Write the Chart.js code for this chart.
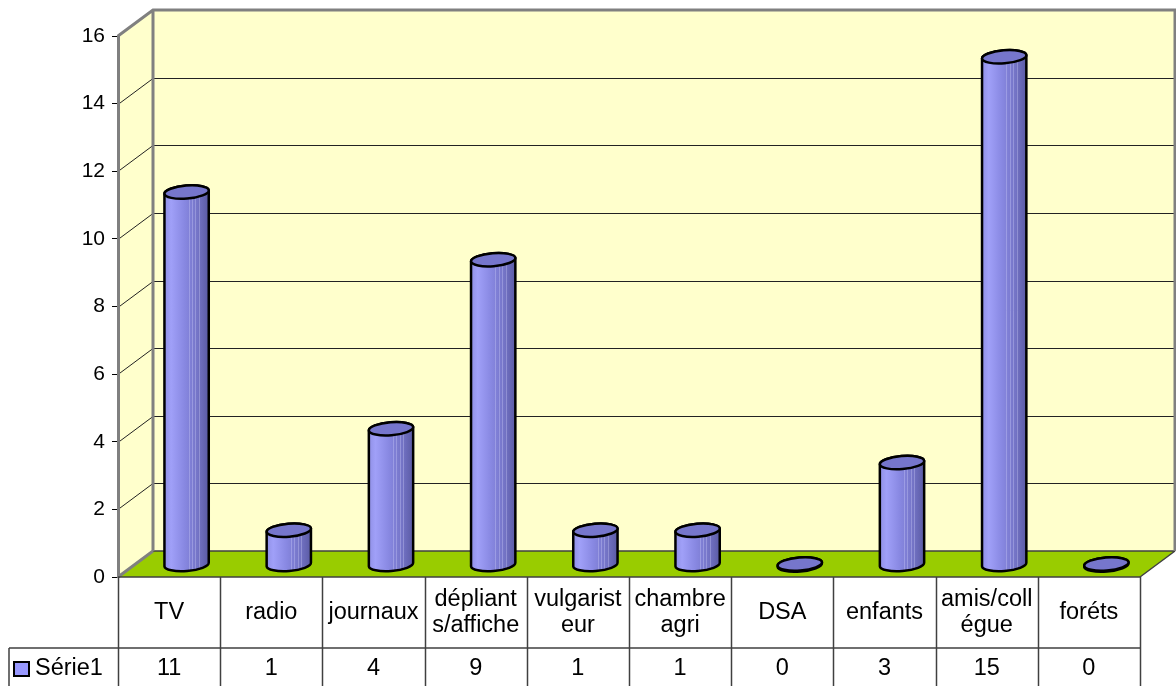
<!DOCTYPE html>
<html>
<head>
<meta charset="utf-8">
<script src="https://cdn.jsdelivr.net/npm/chart.js@4/dist/chart.umd.min.js"></script>
<style>
  html, body { margin: 0; padding: 0; background: #ffffff; }
  #wrap { position: relative; width: 1176px; height: 686px; }
</style>
</head>
<body>
<div id="wrap"><canvas id="c"></canvas></div>
<script>
// Sources d'information — effectifs par canal
const categories = [
  ['TV'], ['radio'], ['journaux'], ['dépliant', 's/affiche'], ['vulgarist', 'eur'],
  ['chambre', 'agri'], ['DSA'], ['enfants'], ['amis/coll', 'égue'], ['foréts']
];
const values = [11, 1, 4, 9, 1, 1, 0, 3, 15, 0];
const seriesName = 'Série1';

const FONT = '"Liberation Sans", Arial, sans-serif';
const DX = 35, DY = 26;               // 3D depth offset of the back wall
const WALL = '#ffffcc', FLOOR = '#99cc00', EDGE = '#808080';

const scene3d = {
  id: 'scene3d',
  beforeDraw(chart) {
    const { ctx, chartArea: a, scales: { y } } = chart;
    const L = a.left, R = a.right, T = a.top, B = a.bottom;
    ctx.save();
    // side wall
    ctx.fillStyle = WALL;
    ctx.beginPath();
    ctx.moveTo(L, B); ctx.lineTo(L, T); ctx.lineTo(L + DX, T - DY); ctx.lineTo(L + DX, B - DY);
    ctx.closePath(); ctx.fill();
    // back wall
    ctx.fillRect(L + DX, T - DY, R - L, B - T);
    // grid lines
    ctx.strokeStyle = '#222'; ctx.lineWidth = 1;
    y.ticks.forEach(t => {
      if (t.value <= 0 || t.value >= y.max) return;
      const py = Math.round(y.getPixelForValue(t.value)) + 0.5;
      ctx.beginPath();
      ctx.moveTo(L, py); ctx.lineTo(L + DX, py - DY); ctx.lineTo(R + DX, py - DY);
      ctx.stroke();
    });
    // floor
    ctx.fillStyle = FLOOR;
    ctx.beginPath();
    ctx.moveTo(L, B); ctx.lineTo(R, B); ctx.lineTo(R + DX, B - DY); ctx.lineTo(L + DX, B - DY);
    ctx.closePath(); ctx.fill();
    ctx.strokeStyle = '#404040'; ctx.lineWidth = 1.5;
    ctx.beginPath();
    ctx.moveTo(L + DX, B - DY); ctx.lineTo(R + DX, B - DY);
    ctx.moveTo(R, B); ctx.lineTo(R + DX, B - DY);
    ctx.stroke();
    // wall edges
    ctx.strokeStyle = EDGE; ctx.lineWidth = 3;
    ctx.beginPath();
    ctx.moveTo(L, T); ctx.lineTo(L + DX, T - DY); ctx.lineTo(R + DX, T - DY); ctx.lineTo(R + DX, B - DY);
    ctx.moveTo(L + DX, T - DY); ctx.lineTo(L + DX, B - DY);
    ctx.moveTo(L, B); ctx.lineTo(L + DX, B - DY);
    ctx.stroke();
    ctx.restore();
  },
  afterDatasetsDraw(chart) {
    const { ctx } = chart;
    const meta = chart.getDatasetMeta(0);
    const rot = -0.08;
    ctx.save();
    meta.data.forEach(bar => {
      const cx = bar.x + DX / 2;
      const rx = bar.width / 2, ry = 6.5;
      const top = bar.y - DY / 2, bot = bar.base - DY / 2 + 1;
      // body
      const g = ctx.createLinearGradient(cx - rx, 0, cx + rx, 0);
      g.addColorStop(0, '#9090e6');
      g.addColorStop(0.15, '#a0a0f8');
      g.addColorStop(0.45, '#8888e2');
      g.addColorStop(0.75, '#7474c6');
      g.addColorStop(1, '#5a5aa4');
      ctx.beginPath();
      ctx.ellipse(cx, bot, rx, ry, rot, 0, Math.PI);
      ctx.ellipse(cx, top, rx, ry, rot, Math.PI, 2 * Math.PI);
      ctx.closePath();
      ctx.fillStyle = g; ctx.fill();
      // faint vertical stripes
      ctx.save();
      ctx.clip();
      ctx.strokeStyle = 'rgba(220,220,255,0.3)'; ctx.lineWidth = 1;
      [0.55, 0.62, 0.7, 0.78].forEach(f => {
        const sx = Math.round(cx - rx + 2 * rx * f) + 0.5;
        ctx.beginPath(); ctx.moveTo(sx, top - ry); ctx.lineTo(sx, bot + ry); ctx.stroke();
      });
      ctx.restore();
      ctx.strokeStyle = '#000'; ctx.lineWidth = 2.5;
      ctx.beginPath();
      ctx.ellipse(cx, bot, rx, ry, rot, 0, Math.PI);
      ctx.ellipse(cx, top, rx, ry, rot, Math.PI, 2 * Math.PI);
      ctx.closePath();
      ctx.stroke();
      // top cap
      ctx.beginPath();
      ctx.ellipse(cx, top, rx, ry, rot, 0, 2 * Math.PI);
      ctx.fillStyle = '#7676cc'; ctx.fill();
      ctx.stroke();
    });
    ctx.restore();
  },
  afterDraw(chart) {
    const { ctx, chartArea: a, scales: { x } } = chart;
    const n = categories.length;
    const colW = (a.right - a.left) / n;
    const rowTop = a.bottom, rowMid = 648, rowBot = 700, legL = 9;
    ctx.save();
    ctx.strokeStyle = '#404040'; ctx.lineWidth = 1.5;
    ctx.beginPath();
    ctx.moveTo(a.left, rowTop); ctx.lineTo(a.right, rowTop);
    ctx.moveTo(legL, rowMid); ctx.lineTo(a.right, rowMid);
    ctx.moveTo(legL, rowMid); ctx.lineTo(legL, rowBot);
    for (let i = 0; i <= n; i++) {
      const px = Math.round(a.left + i * colW) + 0.5;
      ctx.moveTo(px, rowTop); ctx.lineTo(px, rowBot);
    }
    ctx.stroke();
    ctx.fillStyle = '#000';
    ctx.font = '23.5px ' + FONT;
    ctx.textAlign = 'center'; ctx.textBaseline = 'middle';
    categories.forEach((lines, i) => {
      const cx = x.getPixelForValue(i);
      const mid = (rowTop + rowMid) / 2;
      const lh = 26.5;
      lines.forEach((s, k) => {
        ctx.fillText(s, cx, mid + (k - (lines.length - 1) / 2) * lh);
      });
      ctx.fillText(String(values[i]), cx, 669);
    });
    // legend key
    ctx.fillStyle = '#9999ff';
    ctx.fillRect(14, 662, 15, 14);
    ctx.strokeStyle = '#000'; ctx.lineWidth = 2;
    ctx.strokeRect(14, 662, 15, 14);
    ctx.fillStyle = '#000'; ctx.textAlign = 'left';
    ctx.fillText(seriesName, 35, 669);
    ctx.restore();
  }
};

new Chart(document.getElementById('c'), {
  type: 'bar',
  data: {
    labels: categories.map(l => l.join(' ')),
    datasets: [{
      label: seriesName,
      data: values,
      backgroundColor: 'rgba(0,0,0,0)',
      borderWidth: 0,
      categoryPercentage: 1,
      barPercentage: 0.435
    }]
  },
  options: {
    responsive: true,
    maintainAspectRatio: false,
    animation: false,
    layout: { padding: { left: 0, right: 36, top: 36, bottom: 109 } },
    plugins: { legend: { display: false }, tooltip: { enabled: false } },
    scales: {
      x: { display: false },
      y: {
        min: 0, max: 16,
        ticks: { stepSize: 2, color: '#000', font: { family: FONT, size: 21 }, padding: 7 },
        grid: { drawOnChartArea: false, drawTicks: true, tickLength: 6, color: '#000', lineWidth: 1 },
        border: { color: EDGE, width: 3 },
        afterFit(s) { s.width = 118; }
      }
    }
  },
  plugins: [scene3d]
});
</script>
</body>
</html>
